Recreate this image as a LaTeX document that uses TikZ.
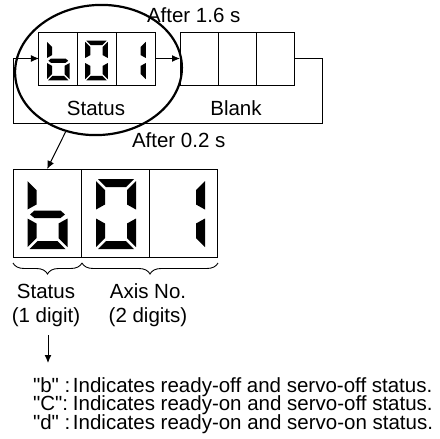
\documentclass[tikz,border=0pt]{standalone}
\usepackage{fontspec}
\setmainfont{Liberation Sans}[Ligatures=TeXOff]
\usetikzlibrary{arrows.meta,decorations.pathreplacing,shapes.geometric}
\newcommand\sgA{\fill[segfill] (-18,35) -- (18,35) -- (10,27) -- (-10,27) -- cycle;}
\newcommand\sgD{\fill[segfill] (-18,-35) -- (18,-35) -- (10,-27) -- (-10,-27) -- cycle;}
\newcommand\sgF{\fill[segfill] (-20,33) -- (-11,24) -- (-11,9.5) -- (-20,4.5) -- cycle;}
\newcommand\sgE{\fill[segfill] (-20,-33) -- (-11,-24) -- (-11,-9.5) -- (-20,-4.5) -- cycle;}
\newcommand\sgB{\fill[segfill] (20,33) -- (11,24) -- (11,9.5) -- (20,4.5) -- cycle;}
\newcommand\sgC{\fill[segfill] (20,-33) -- (11,-24) -- (11,-9.5) -- (20,-4.5) -- cycle;}
\newcommand\sgG{\fill[segfill] (-17.5,-0.5) -- (-13,3.5) -- (13,3.5) -- (17.5,-0.5) -- (13,-4) -- (-13,-4) -- cycle;}
% digit macros: #1 = x, #2 = y, #3 = scale
\newcommand\digitb[3]{\begin{scope}[shift={(#1,#2)},scale=#3]\sgF\sgE\sgG\sgC\sgD\end{scope}}
\newcommand\digitzero[3]{\begin{scope}[shift={(#1,#2)},scale=#3]\sgA\sgB\sgC\sgD\sgE\sgF\end{scope}}
\newcommand\digitone[3]{\begin{scope}[shift={(#1,#2)},scale=#3]\sgB\sgC\end{scope}}
\begin{document}
\begin{tikzpicture}[x=1pt,y=1pt,
  segfill/.style={fill=black},
  cell/.style={draw, line width=1pt, minimum width=38.67pt, minimum height=53pt, inner sep=0pt, outer sep=0pt},
  blankcell/.style={cell, minimum width=38pt},
  bigcell/.style={draw, line width=1pt, minimum width=68.33pt, minimum height=88pt, inner sep=0pt, outer sep=0pt},
  txt/.style={inner sep=0pt, outer sep=0pt, font=\fontsize{20.5pt}{22pt}\selectfont},
  arr/.style={line width=1pt, -{Latex[length=8pt,width=7pt]}},
  brc/.style={decorate, decoration={brace, amplitude=11pt, mirror}, line width=0.9pt},
]
\useasboundingbox (0,0) rectangle (440,-439);

% small status display
\node[cell] (s1) at (58.33,-58.5) {};
\node[cell] (s2) at (97,-58.5) {};
\node[cell] (s3) at (135.67,-58.5) {};
\digitb{58.3}{-60.5}{0.565}
\digitzero{96.5}{-60.5}{0.565}
\digitone{134.5}{-60.5}{0.565}

% blank display
\node[blankcell] (b1) at (199,-58.5) {};
\node[blankcell] (b2) at (237,-58.5) {};
\node[blankcell] (b3) at (275,-58.5) {};

% loop
\coordinate (loopR) at (322,-123);
\coordinate (loopL) at (13,-123);
\draw[arr] (b3.east) -| (loopR) -- (loopL) |- (s1.west);
\draw[arr] (s3.east) -- (b1.west);

% ellipse
\node[draw, ellipse, line width=2.2pt, minimum width=167pt, minimum height=130pt, inner sep=0pt, rotate=4] (ell) at (98.5,-70) {};

% labels top
\node[txt, anchor=base west] (lab16) at (147,-23) {After 1.6 s};
\node[txt, anchor=base] (labst) at (96,-115) {Status};
\node[txt, anchor=base] (labbl) at (236,-115) {Blank};
\node[txt, anchor=base west] (lab02) at (132,-147) {After 0.2 s};

% big display
\node[bigcell] (c1) at (47.17,-213) {};
\node[bigcell] (c2) at (115.5,-213) {};
\node[bigcell] (c3) at (183.83,-213) {};
\digitb{47.5}{-214}{1}
\digitzero{116}{-214}{1}
\digitone{185}{-214}{1}

\draw[arr] (ell.238) -- (c1.north);

% braces
\coordinate (br0) at (13,-263);
\coordinate (br1) at (82,-263);
\coordinate (br2) at (218,-263);
\draw[brc] (br0) -- (br1);
\draw[brc] (br1) -- (br2);

\node[txt, anchor=base] (st1) at (46,-298) {Status};
\node[txt, anchor=base] (st2) at (46,-322) {(1 digit)};
\node[txt, anchor=base] (ax1) at (148,-298) {Axis No.};
\node[txt, anchor=base] (ax2) at (148,-322) {(2 digits)};

\coordinate (dA) at (48,-335);
\coordinate (dB) at (48,-363);
\draw[arr] (dA) -- (dB);

\node[txt, anchor=base west] (t1) at (33,-392) {\makebox[40pt][l]{"b" :}Indicates ready-off and servo-off status.};
\node[txt, anchor=base west] (t2) at (33,-410.5) {\makebox[40pt][l]{"C":}Indicates ready-on and servo-off status.};
\node[txt, anchor=base west] (t3) at (33,-429) {\makebox[40pt][l]{"d" :}Indicates ready-on and servo-on status.};
\end{tikzpicture}
\end{document}
